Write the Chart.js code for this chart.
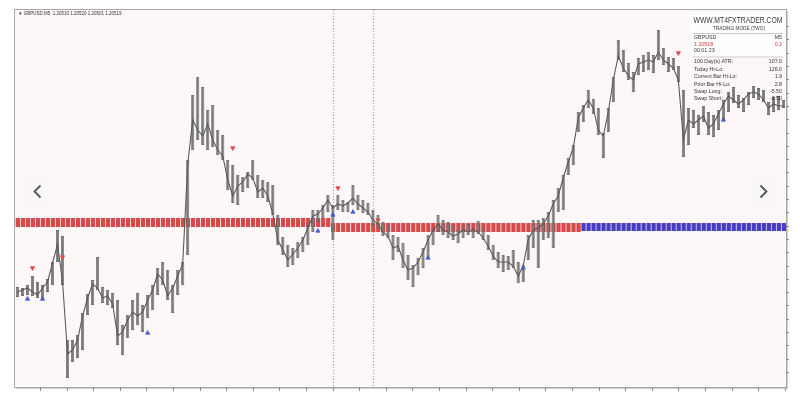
<!DOCTYPE html>
<html>
<head>
<meta charset="utf-8">
<script src="https://cdn.jsdelivr.net/npm/chart.js@4.4.0/dist/chart.umd.min.js"></script>
<style>
html, body { margin: 0; padding: 0; background: #fff; }
#wrap { width: 800px; height: 401px; position: relative; }
</style>
</head>
<body>
<div id="wrap"><canvas id="chart"></canvas></div>
<script>
// GBPUSD M5 bar ranges and closes
var highs = [
    1.19665, 1.19660, 1.19675, 1.19720, 1.19690, 1.19675, 1.19705, 1.19790, 1.19950, 1.19920,
    1.19400, 1.19400, 1.19425, 1.19535, 1.19630, 1.19700, 1.19815, 1.19665, 1.19650, 1.19635,
    1.19600, 1.19475, 1.19525, 1.19600, 1.19635, 1.19575, 1.19625, 1.19675, 1.19760, 1.19790,
    1.19750, 1.19675, 1.19750, 1.19790, 1.20300, 1.20625, 1.20715, 1.20665, 1.20550, 1.20575,
    1.20450, 1.20425, 1.20300, 1.20275, 1.20225, 1.20215, 1.20240, 1.20300, 1.20225, 1.20200,
    1.20190, 1.20175, 1.20025, 1.19915, 1.19875, 1.19860, 1.19890, 1.19915, 1.19975, 1.20050,
    1.20050, 1.20075, 1.20125, 1.20075, 1.20125, 1.20100, 1.20090, 1.20175, 1.20125, 1.20100,
    1.20085, 1.20050, 1.20025, 1.19990, 1.19975, 1.19925, 1.19915, 1.19885, 1.19825, 1.19775,
    1.19810, 1.19860, 1.19925, 1.19960, 1.20025, 1.20000, 1.19990, 1.19975, 1.19950, 1.19970,
    1.19980, 1.19960, 1.19995, 1.19960, 1.19925, 1.19875, 1.19840, 1.19825, 1.19820, 1.19850,
    1.19790, 1.19775, 1.19925, 1.20000, 1.20000, 1.20010, 1.20040, 1.20100, 1.20160, 1.20225,
    1.20310, 1.20375, 1.20540, 1.20575, 1.20650, 1.20605, 1.20560, 1.20435, 1.20560, 1.20715,
    1.20900, 1.20850, 1.20785, 1.20740, 1.20810, 1.20825, 1.20840, 1.20825, 1.20950, 1.20860,
    1.20815, 1.20810, 1.20770, 1.20650, 1.20560, 1.20550, 1.20525, 1.20570, 1.20540, 1.20525,
    1.20550, 1.20600, 1.20640, 1.20665, 1.20625, 1.20610, 1.20640, 1.20670, 1.20660, 1.20650,
    1.20590, 1.20615, 1.20620, 1.20600
];
var lows = [
    1.19615, 1.19620, 1.19625, 1.19620, 1.19610, 1.19600, 1.19640, 1.19675, 1.19790, 1.19675,
    1.19210, 1.19290, 1.19310, 1.19350, 1.19525, 1.19575, 1.19650, 1.19585, 1.19575, 1.19560,
    1.19375, 1.19325, 1.19410, 1.19450, 1.19475, 1.19440, 1.19510, 1.19550, 1.19625, 1.19675,
    1.19600, 1.19535, 1.19625, 1.19675, 1.19825, 1.20350, 1.20400, 1.20375, 1.20350, 1.20365,
    1.20325, 1.20300, 1.20150, 1.20085, 1.20075, 1.20140, 1.20160, 1.20200, 1.20110, 1.20110,
    1.20090, 1.20025, 1.19875, 1.19825, 1.19765, 1.19775, 1.19810, 1.19840, 1.19875, 1.19940,
    1.19990, 1.20010, 1.20040, 1.19900, 1.20050, 1.20040, 1.20040, 1.20075, 1.20050, 1.20035,
    1.20025, 1.19975, 1.19960, 1.19920, 1.19910, 1.19800, 1.19840, 1.19760, 1.19700, 1.19665,
    1.19725, 1.19760, 1.19810, 1.19875, 1.19940, 1.19925, 1.19910, 1.19900, 1.19885, 1.19910,
    1.19925, 1.19910, 1.19930, 1.19900, 1.19850, 1.19800, 1.19760, 1.19740, 1.19750, 1.19760,
    1.19685, 1.19690, 1.19800, 1.19860, 1.19760, 1.19900, 1.19910, 1.19860, 1.20040, 1.20050,
    1.20225, 1.20275, 1.20440, 1.20490, 1.20560, 1.20530, 1.20425, 1.20310, 1.20440, 1.20590,
    1.20800, 1.20740, 1.20700, 1.20640, 1.20725, 1.20740, 1.20750, 1.20735, 1.20800, 1.20775,
    1.20740, 1.20750, 1.20690, 1.20315, 1.20375, 1.20460, 1.20425, 1.20490, 1.20425, 1.20415,
    1.20450, 1.20500, 1.20540, 1.20585, 1.20560, 1.20540, 1.20575, 1.20610, 1.20600, 1.20590,
    1.20525, 1.20540, 1.20550, 1.20560
];
var closes = [
    1.19640, 1.19650, 1.19660, 1.19640, 1.19625, 1.19660, 1.19690, 1.19785, 1.19880, 1.19690,
    1.19330, 1.19350, 1.19400, 1.19520, 1.19610, 1.19680, 1.19660, 1.19610, 1.19620, 1.19580,
    1.19420, 1.19440, 1.19500, 1.19540, 1.19520, 1.19540, 1.19600, 1.19650, 1.19730, 1.19700,
    1.19620, 1.19660, 1.19720, 1.19780, 1.20280, 1.20500, 1.20450, 1.20420, 1.20480, 1.20400,
    1.20350, 1.20320, 1.20200, 1.20120, 1.20170, 1.20190, 1.20230, 1.20210, 1.20140, 1.20160,
    1.20120, 1.20030, 1.19900, 1.19850, 1.19800, 1.19830, 1.19860, 1.19900, 1.19960, 1.20020,
    1.20030, 1.20060, 1.20100, 1.20060, 1.20080, 1.20070, 1.20085, 1.20110, 1.20080, 1.20060,
    1.20040, 1.20000, 1.19980, 1.19940, 1.19920, 1.19860, 1.19870, 1.19800, 1.19750, 1.19760,
    1.19790, 1.19840, 1.19900, 1.19950, 1.19980, 1.19950, 1.19940, 1.19920, 1.19930, 1.19950,
    1.19940, 1.19950, 1.19940, 1.19910, 1.19870, 1.19820, 1.19790, 1.19790, 1.19790, 1.19770,
    1.19720, 1.19770, 1.19900, 1.19950, 1.19960, 1.19980, 1.20020, 1.20080, 1.20120, 1.20210,
    1.20290, 1.20360, 1.20510, 1.20560, 1.20600, 1.20560, 1.20450, 1.20420, 1.20540, 1.20700,
    1.20820, 1.20760, 1.20720, 1.20700, 1.20780, 1.20790, 1.20800, 1.20790, 1.20840, 1.20800,
    1.20780, 1.20760, 1.20700, 1.20400, 1.20500, 1.20480, 1.20500, 1.20520, 1.20460, 1.20480,
    1.20530, 1.20580, 1.20620, 1.20600, 1.20580, 1.20600, 1.20630, 1.20640, 1.20630, 1.20600,
    1.20560, 1.20580, 1.20570, 1.20570
];
var labels = highs.map(function(_, i) { return i; });

// trading mode band: bar index ranges and price levels
var bandStart = [0, 63, 113];
var bandEnd = [62, 112, 153];
var bandLow = [1.19965, 1.19940, 1.19945];
var bandHigh = [1.20010, 1.19985, 1.19985];

// signal arrows
var sellIdx = [3, 9, 43, 64, 72, 132];
var sellPrice = [1.19760, 1.19815, 1.20360, 1.20160, 1.20000, 1.20835];
var buyIdx = [2, 5, 26, 60, 63, 67, 82, 101, 141];
var buyPrice = [1.19605, 1.19605, 1.19435, 1.19945, 1.20025, 1.20040, 1.19810, 1.19760, 1.20500];

var markerBars = [63, 71];

var infoRows = [
    ['100 Day(s) ATR:', '107.0'],
    ['Today Hi-Lo:', '126.0'],
    ['Current Bar Hi-Lo:', '1.9'],
    ['Prior Bar Hi-Lo:', '2.8'],
    ['Swap Long:', '-5.50'],
    ['Swap Short:', '-3.50']
];

var bandColors = ['#d64a4c', '#d64a4c', '#473cc4'];
var FONT = '"Liberation Sans", Arial, sans-serif';

var datasets = [];
datasets.push({
    type: 'line',
    label: 'close',
    data: closes,
    borderColor: '#5a5a5a',
    borderWidth: 1.1,
    pointRadius: 0,
    tension: 0,
    order: 1
});
datasets.push({
    type: 'bar',
    label: 'bars',
    data: highs.map(function(h, i) { return [lows[i], h]; }),
    backgroundColor: '#7a7a7a',
    borderColor: '#555555',
    borderWidth: 0.7,
    borderSkipped: false,
    barPercentage: 0.62,
    categoryPercentage: 1,
    grouped: false,
    order: 2
});
bandStart.forEach(function(s, k) {
    var d = labels.map(function() { return null; });
    for (var i = s; i <= bandEnd[k]; i++) d[i] = [bandLow[k], bandHigh[k]];
    datasets.push({
        type: 'bar',
        label: 'band' + k,
        data: d,
        backgroundColor: bandColors[k],
        borderColor: 'rgba(255,255,255,0.28)',
        borderWidth: { left: 1, right: 0, top: 0, bottom: 0 },
        borderSkipped: false,
        barPercentage: 1,
        categoryPercentage: 1,
        grouped: false,
        order: 3
    });
});
datasets.push({
    type: 'line',
    label: 'sell',
    data: sellIdx.map(function(x, i) { return { x: x, y: sellPrice[i] }; }),
    showLine: false,
    pointStyle: 'triangle',
    rotation: 180,
    pointRadius: 2.4,
    backgroundColor: '#e0484a',
    borderColor: '#e0484a',
    borderWidth: 0.8,
    order: 0
});
datasets.push({
    type: 'line',
    label: 'buy',
    data: buyIdx.map(function(x, i) { return { x: x, y: buyPrice[i] }; }),
    showLine: false,
    pointStyle: 'triangle',
    pointRadius: 2.4,
    backgroundColor: '#4a5ad8',
    borderColor: '#4a5ad8',
    borderWidth: 0.8,
    order: 0
});

var decor = {
    id: 'decor',
    beforeDraw: function(chart) {
        var ctx = chart.ctx, a = chart.chartArea;
        ctx.save();
        ctx.fillStyle = '#ffffff';
        ctx.fillRect(0, 0, chart.width, chart.height);
        ctx.fillStyle = '#fdf8f7';
        ctx.fillRect(a.left, a.top, a.right - a.left, a.bottom - a.top);
        ctx.restore();
    },
    beforeDatasetsDraw: function(chart) {
        var ctx = chart.ctx, a = chart.chartArea, xs = chart.scales.x;
        ctx.save();
        ctx.strokeStyle = '#9a9a9a';
        ctx.lineWidth = 1;
        ctx.setLineDash([1, 2]);
        markerBars.forEach(function(b) {
            var x = Math.round(xs.getPixelForValue(b)) + 0.5;
            ctx.beginPath();
            ctx.moveTo(x, a.top);
            ctx.lineTo(x, a.bottom);
            ctx.stroke();
        });
        ctx.restore();
    },
    afterDraw: function(chart) {
        var ctx = chart.ctx, a = chart.chartArea;
        ctx.save();
        // frame
        ctx.strokeStyle = '#a8a8a8';
        ctx.lineWidth = 1;
        ctx.strokeRect(a.left - 0.5, a.top - 0.5, a.right - a.left + 1, a.bottom - a.top + 1);
        ctx.strokeStyle = 'rgba(120,120,120,0.35)';
        ctx.beginPath();
        ctx.moveTo(a.left + 1, a.bottom + 1.5);
        ctx.lineTo(a.right + 1.5, a.bottom + 1.5);
        ctx.lineTo(a.right + 1.5, a.top + 1);
        ctx.stroke();
        // bottom ticks
        ctx.strokeStyle = '#8a8a8a';
        for (var tx = a.left + 25; tx < a.right; tx += 26.6) {
            ctx.beginPath();
            ctx.moveTo(Math.round(tx) + 0.5, a.bottom);
            ctx.lineTo(Math.round(tx) + 0.5, a.bottom + 4);
            ctx.stroke();
        }
        for (var ty = a.bottom - 15; ty > a.top + 5; ty -= 13.3) {
            ctx.beginPath();
            ctx.moveTo(a.right, Math.round(ty) + 0.5);
            ctx.lineTo(a.right + 3, Math.round(ty) + 0.5);
            ctx.stroke();
        }
        // title
        ctx.fillStyle = '#333';
        ctx.font = '4.5px ' + FONT;
        ctx.textBaseline = 'middle';
        ctx.fillText('\u25BC GBPUSD,M5  1.20510 1.20520 1.20501 1.20519', a.left + 3, a.top + 3.5);

        // info panel
        ctx.fillStyle = 'rgba(255,255,255,0.85)';
        ctx.fillRect(690, 12, 95, 46);
        ctx.fillStyle = '#3a3a3a';
        ctx.font = '8.5px ' + FONT;
        ctx.textAlign = 'center';
        ctx.fillText('WWW.MT4FXTRADER.COM', 738, 21, 89);
        ctx.font = '5px ' + FONT;
        ctx.fillText('TRADING MODE (TWO)', 739, 28.5, 52);
        ctx.strokeStyle = 'rgba(150,150,150,0.5)';
        ctx.beginPath();
        ctx.moveTo(693, 33.5); ctx.lineTo(783, 33.5);
        ctx.moveTo(693, 57); ctx.lineTo(783, 57);
        ctx.stroke();
        ctx.font = '5.3px ' + FONT;
        ctx.textAlign = 'left';
        ctx.fillText('GBPUSD', 694, 38);
        ctx.fillText('00:01:23', 694, 51);
        ctx.textAlign = 'right';
        ctx.fillText('M5', 782, 38);
        ctx.fillStyle = '#e0383a';
        ctx.textAlign = 'left';
        ctx.fillText('1.20518', 694, 44.5);
        ctx.textAlign = 'right';
        ctx.fillText('0.2', 782, 44.5);
        ctx.fillStyle = '#333';
        infoRows.forEach(function(r, i) {
            var y = 62 + i * 7.4;
            ctx.textAlign = 'left';
            ctx.fillText(r[0], 694, y);
            ctx.textAlign = 'right';
            ctx.fillText(r[1], 782, y);
        });

        // slider buttons
        [[24, 37.5, -1], [750, 763.5, 1]].forEach(function(b) {
            ctx.fillStyle = 'rgba(248,246,246,0.9)';
            ctx.fillRect(b[0], 178, 27, 28);
            ctx.strokeStyle = '#555';
            ctx.lineWidth = 1.8;
            ctx.beginPath();
            ctx.moveTo(b[1] - 3 * b[2], 185.5);
            ctx.lineTo(b[1] + 3 * b[2], 191.5);
            ctx.lineTo(b[1] - 3 * b[2], 197.5);
            ctx.stroke();
        });
        ctx.restore();
    }
};

new Chart(document.getElementById('chart').getContext('2d'), {
    data: { labels: labels, datasets: datasets },
    options: {
        responsive: true,
        maintainAspectRatio: false,
        animation: false,
        layout: { padding: { left: 15, right: 14, top: 10, bottom: 14 } },
        plugins: { legend: { display: false }, tooltip: { enabled: false } },
        scales: {
            x: { type: 'category', display: false, offset: true },
            y: { display: false, min: 1.19165, max: 1.2105 }
        }
    },
    plugins: [decor]
});
</script>
</body>
</html>
